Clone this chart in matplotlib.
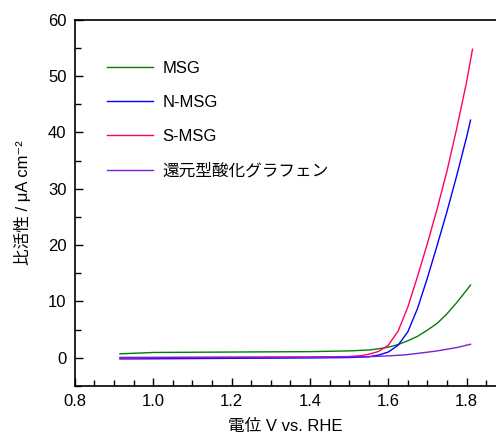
import numpy as np
import matplotlib.pyplot as plt
from matplotlib.ticker import MultipleLocator

plt.rcParams['font.family'] = ['Liberation Sans', 'Noto Sans CJK JP', 'DejaVu Sans']

# 電位 (V vs. RHE) と 比活性 (μA cm-2)
v_msg = [0.915, 1.0, 1.2, 1.4, 1.5, 1.553, 1.575, 1.6, 1.625, 1.65, 1.675,
         1.7, 1.725, 1.75, 1.775, 1.8, 1.81]
msg = [0.68, 0.92, 1.0, 1.07, 1.2, 1.37, 1.58, 1.85, 2.33, 3.0, 3.8,
       4.9, 6.1, 7.8, 9.8, 12.0, 12.9]

v_n = [0.915, 1.0, 1.2, 1.4, 1.5, 1.55, 1.575, 1.6, 1.625, 1.65, 1.675,
       1.7, 1.725, 1.75, 1.775, 1.8, 1.81]
n_msg = [-0.22, -0.2, -0.12, -0.05, 0.02, 0.15, 0.45, 1.0, 2.2, 4.6, 8.8,
         14.2, 20.0, 26.0, 32.4, 39.2, 42.2]

v_s = [0.915, 1.0, 1.2, 1.4, 1.5, 1.53, 1.55, 1.575, 1.6, 1.625, 1.65, 1.675,
       1.7, 1.725, 1.75, 1.775, 1.8, 1.815]
s_msg = [-0.05, 0.0, 0.02, 0.08, 0.2, 0.35, 0.6, 1.1, 2.2, 4.7, 9.0, 14.5,
         20.3, 26.5, 33.2, 40.8, 49.0, 54.8]

v_rgo = [0.915, 1.0, 1.2, 1.4, 1.5, 1.553, 1.6, 1.639, 1.65, 1.7, 1.724,
         1.75, 1.775, 1.81]
rgo = [0.05, 0.06, 0.1, 0.12, 0.15, 0.18, 0.32, 0.48, 0.55, 0.97, 1.19,
       1.5, 1.8, 2.38]

labels = ['MSG', 'N-MSG', 'S-MSG', '還元型酸化グラフェン']
colors = ['#008000', '#0000ff', '#ff0066', '#7b1fe0']

fig = plt.figure(figsize=(4.96, 4.33), dpi=100)
ax = fig.add_axes([0.151, 0.109, 0.849, 0.845])

for xs, ys, lab, c in zip([v_msg, v_n, v_s, v_rgo], [msg, n_msg, s_msg, rgo],
                          labels, colors):
    ax.plot(xs, ys, color=c, lw=1.0, label=lab)

ax.set_xlim(0.8, 1.875)
ax.set_ylim(-5, 60)
ax.xaxis.set_major_locator(MultipleLocator(0.2))
ax.xaxis.set_minor_locator(MultipleLocator(0.05))
ax.yaxis.set_major_locator(MultipleLocator(10))
ax.yaxis.set_minor_locator(MultipleLocator(5))
ax.xaxis.set_major_formatter(plt.FormatStrFormatter('%.1f'))
ax.tick_params(which='both', direction='in', labelsize=12, width=1, pad=6)
ax.tick_params(which='major', length=6)
ax.tick_params(which='minor', length=4)
ax.spines['right'].set_visible(False)
for s in ['left', 'bottom', 'top']:
    ax.spines[s].set_linewidth(1.2)

ax.set_xlabel('電位 V vs. RHE', fontsize=12, labelpad=7)
ax.set_ylabel('比活性 / μA cm⁻²', fontsize=12, labelpad=12)

ax.legend(loc='upper left', bbox_to_anchor=(0.04, 0.93), frameon=False,
          fontsize=12, handlelength=2.75, handletextpad=0.6, labelspacing=1.15)

fig.savefig('out.png', dpi=100)
